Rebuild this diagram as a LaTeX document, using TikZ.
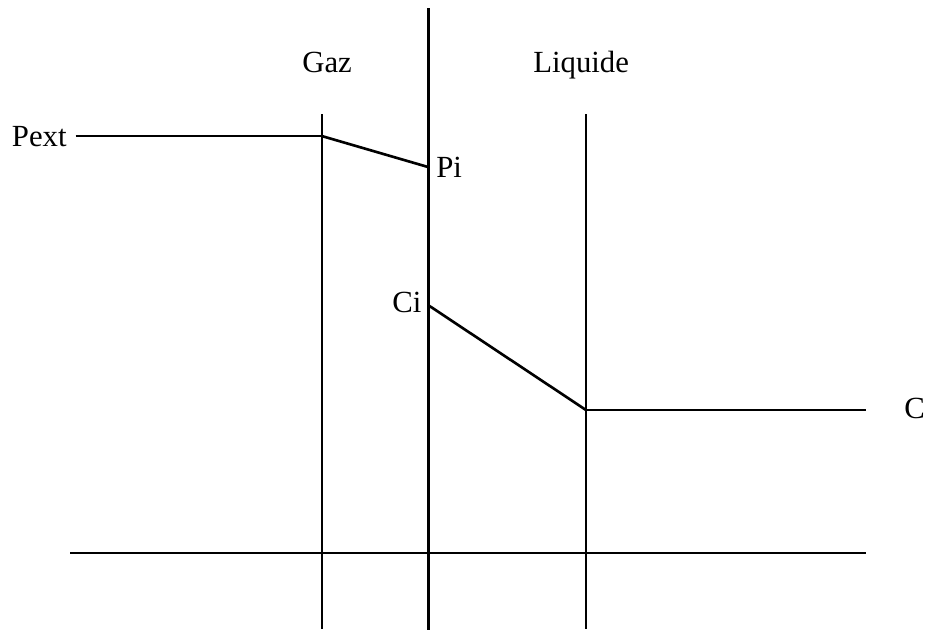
\documentclass[tikz,border=0pt]{standalone}
\usepackage{fontspec}
\setmainfont{Liberation Serif}
\usepackage{tikz}

\begin{document}
\begin{tikzpicture}[x=0.02cm, y=-0.02cm,
    wall/.style={line width=1.1pt},
    iface/.style={line width=1.7pt},
    prof/.style={line width=1.5pt},
    lbl/.style={inner sep=0pt, anchor=base west, font=\fontsize{17.5}{20}\selectfont}]
    \useasboundingbox (0,0) rectangle (928,630);

    % Walls and interface
    \coordinate (gtop) at (322,114);
    \coordinate (gbot) at (322,629);
    \coordinate (itop) at (428,8);
    \coordinate (ibot) at (428,630);
    \coordinate (ltop) at (586,114);
    \coordinate (lbot) at (586,629);
    \coordinate (axl) at (70,553);
    \coordinate (axr) at (866,553);

    % Labels
    \node[lbl] (GAZ) at (302,72) {Gaz};
    \node[lbl] (LIQ) at (533,72) {Liquide};
    \node[lbl, outer xsep=0.18cm] (PEXT) at (3,146) {Pext};

    % Profile points
    \coordinate (pg) at (PEXT.east -| gtop);
    \coordinate (pi) at (428,167);
    \coordinate (ci) at (428,305);
    \coordinate (cl) at (586,410);
    \coordinate (cend) at (866,410);
    \node[lbl] (PI) at (436,177) {Pi};
    \node[lbl] (CI) at (392,312) {Ci};
    \node[lbl] (C) at (904,418) {C};

    % Lines
    \draw[wall] (gtop) -- (gbot);
    \draw[iface] (itop) -- (ibot);
    \draw[wall] (ltop) -- (lbot);
    \draw[wall] (axl) -- (axr);

    % Profiles
    \draw[wall] (PEXT.east) -- (pg);
    \draw[prof] (pg) -- (pi);
    \draw[prof] (ci) -- (cl);
    \draw[prof] (cl) -- (cend);
\end{tikzpicture}
\end{document}
